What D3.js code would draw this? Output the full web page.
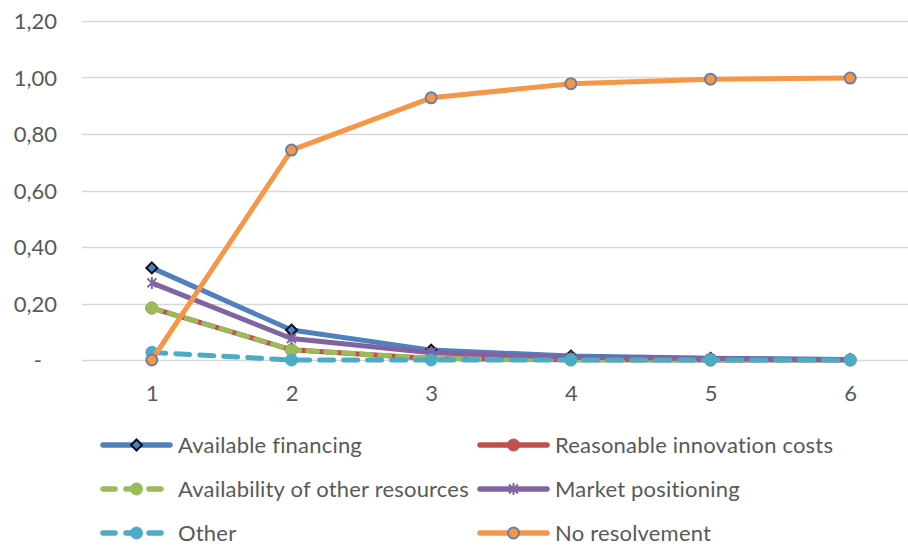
<!DOCTYPE html>
<html>
<head>
<meta charset="utf-8">
<script src="https://cdn.jsdelivr.net/npm/d3@7"></script>
<style>
  body { margin: 0; background: #fff; }
  svg { display: block; font-family: Lato, "Open Sans", sans-serif; }
</style>
</head>
<body>
<div id="chart"></div>
<script>
// Data
const categories = ['1', '2', '3', '4', '5', '6'];
const yTicks = [0, 0.2, 0.4, 0.6, 0.8, 1.0, 1.2];

const availableFinancing = [0.326, 0.106, 0.035, 0.014, 0.006, 0.002];
const reasonableCosts    = [0.184, 0.036, 0.005, 0.001, 0.000, 0.000];
const otherResources     = [0.184, 0.036, 0.006, 0.001, 0.000, 0.000];
const marketPositioning  = [0.273, 0.076, 0.026, 0.010, 0.005, 0.001];
const otherReasons       = [0.027, 0.000, 0.000, 0.000, 0.000, 0.000];
const noResolvement      = [0.000, 0.743, 0.928, 0.978, 0.994, 0.998];

const seriesNames = ['Available financing', 'Reasonable innovation costs',
    'Availability of other resources', 'Market positioning', 'Other', 'No resolvement'];

const series = [
    { name: seriesNames[0], values: availableFinancing, color: '#4f81bd', dash: null, marker: 'diamond' },
    { name: seriesNames[1], values: reasonableCosts, color: '#c0504d', dash: null, marker: 'circle' },
    { name: seriesNames[2], values: otherResources, color: '#9bbb59', dash: '10,8', marker: 'circle' },
    { name: seriesNames[3], values: marketPositioning, color: '#8064a2', dash: null, marker: 'star' },
    { name: seriesNames[4], values: otherReasons, color: '#4bacc6', dash: '14,10', marker: 'circle' },
    { name: seriesNames[5], values: noResolvement, color: '#f79646', dash: null, marker: 'ring' }
];

const W = 908, H = 546;
const plotLeft = 82, plotTop = 21, plotBottom = 360;
const fontSize = '22px';

const svg = d3.select('#chart').append('svg')
    .attr('width', W)
    .attr('height', H);

// Scales
const x = d3.scalePoint()
    .domain(categories)
    .range([plotLeft, 920])
    .padding(0.5);

const y = d3.scaleLinear()
    .domain([0, 1.2])
    .range([plotBottom, plotTop]);

// Gridlines
svg.append('g')
    .selectAll('line')
    .data(yTicks)
    .enter()
    .append('line')
    .attr('x1', plotLeft)
    .attr('x2', W)
    .attr('y1', d => Math.round(y(d)) + 0.5)
    .attr('y2', d => Math.round(y(d)) + 0.5)
    .attr('stroke', '#d9d9d9')
    .attr('stroke-width', 1.5);

// Y axis labels
const fmt = d => d === 0 ? '-' : d3.format('.2f')(d).replace('.', ',');
const yAxis = d3.axisLeft(y)
    .tickValues(yTicks)
    .tickFormat(fmt)
    .tickSize(0)
    .tickPadding(0);

const yg = svg.append('g')
    .attr('transform', `translate(57,0)`)
    .call(yAxis);
yg.select('.domain').remove();
yg.selectAll('text')
    .style('font-size', fontSize)
    .style('font-family', 'Lato, "Open Sans", sans-serif')
    .attr('fill', '#595959')
    .attr('dy', '0.35em')
    .attr('x', d => d === 0 ? -15 : 0);

// X axis labels
const xAxis = d3.axisBottom(x).tickSize(0).tickPadding(0);
const xg = svg.append('g')
    .attr('transform', `translate(0,${plotBottom + 33})`)
    .call(xAxis);
xg.select('.domain').remove();
xg.selectAll('text')
    .style('font-size', fontSize)
    .style('font-family', 'Lato, "Open Sans", sans-serif')
    .attr('fill', '#595959')
    .attr('dy', '0.35em')
    .attr('y', 0);

// Markers
function drawMarker(g, type, color, cx, cy) {
    if (type === 'diamond') {
        const r = 5.5;
        g.append('path')
            .attr('d', `M${cx},${cy - r}L${cx + r},${cy}L${cx},${cy + r}L${cx - r},${cy}Z`)
            .attr('fill', color)
            .attr('stroke', '#0d0d26')
            .attr('stroke-width', 2);
    } else if (type === 'circle') {
        g.append('circle')
            .attr('cx', cx).attr('cy', cy).attr('r', 6)
            .attr('fill', color)
            .attr('stroke', color)
            .attr('stroke-width', 1);
    } else if (type === 'ring') {
        g.append('circle')
            .attr('cx', cx).attr('cy', cy).attr('r', 5.5)
            .attr('fill', color)
            .attr('stroke', '#6b7fa6')
            .attr('stroke-width', 2);
    } else if (type === 'star') {
        // excel-style asterisk: an X plus a vertical stroke
        const r = 6;
        const d = r * 0.75;
        const p = `M${cx - d},${cy - d}L${cx + d},${cy + d}` +
            `M${cx - d},${cy + d}L${cx + d},${cy - d}` +
            `M${cx},${cy - r}L${cx},${cy + r}`;
        g.append('path')
            .attr('d', p)
            .attr('stroke', color)
            .attr('stroke-width', 2)
            .attr('fill', 'none');
    }
}

// Lines
const line = d3.line()
    .x((d, i) => x(categories[i]))
    .y(d => y(d));

series.forEach(s => {
    const g = svg.append('g').attr('class', 'series');
    g.append('path')
        .datum(s.values)
        .attr('d', line)
        .attr('fill', 'none')
        .attr('stroke', s.color)
        .attr('stroke-width', 5)
        .attr('stroke-linecap', s.dash ? 'round' : 'butt')
        .attr('stroke-linejoin', 'round')
        .attr('stroke-dasharray', s.dash);
    s.values.forEach((v, i) => {
        drawMarker(g, s.marker, s.color, x(categories[i]), y(v));
    });
});

// Legend
const legendCols = [100, 477];
const legendRows = [445, 489, 533];
series.forEach((s, i) => {
    const lx = legendCols[i % 2];
    const ly = legendRows[Math.floor(i / 2)];
    const g = svg.append('g').attr('class', 'legend-item');
    g.append('line')
        .attr('x1', lx + 3).attr('x2', lx + 70)
        .attr('y1', ly).attr('y2', ly)
        .attr('stroke', s.color)
        .attr('stroke-width', 5.5)
        .attr('stroke-linecap', 'round')
        .attr('stroke-dasharray', s.dash ? '12,11' : null);
    drawMarker(g, s.marker, s.color, lx + 36.5, ly);
    g.append('text')
        .attr('x', lx + 78)
        .attr('y', ly)
        .attr('dy', '0.35em')
        .style('font-size', fontSize)
        .style('letter-spacing', '0.2px')
        .attr('fill', '#595959')
        .text(s.name);
});
</script>
</body>
</html>
